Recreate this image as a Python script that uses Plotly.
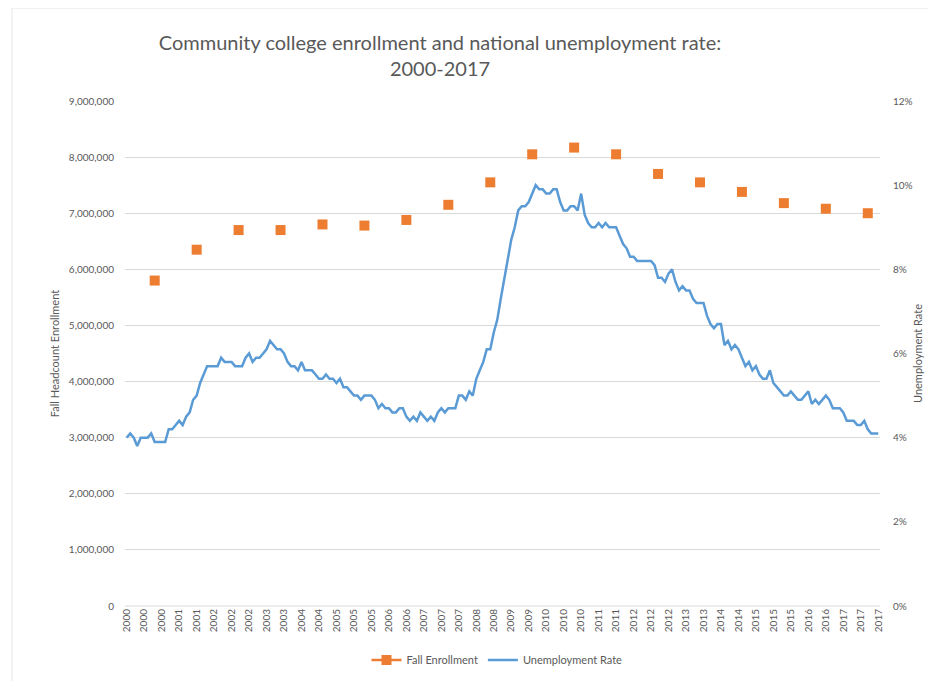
import plotly.graph_objects as go

years = list(range(2000, 2018))
fall_enrollment = [5800000, 6350000, 6700000, 6700000, 6800000, 6780000, 6880000,
                   7150000, 7550000, 8050000, 8170000, 8050000, 7700000, 7550000,
                   7380000, 7180000, 7080000, 7000000]

unemployment_rate = [
    4.0, 4.1, 4.0, 3.8, 4.0, 4.0, 4.0, 4.1, 3.9, 3.9, 3.9, 3.9,   # 2000
    4.2, 4.2, 4.3, 4.4, 4.3, 4.5, 4.6, 4.9, 5.0, 5.3, 5.5, 5.7,   # 2001
    5.7, 5.7, 5.7, 5.9, 5.8, 5.8, 5.8, 5.7, 5.7, 5.7, 5.9, 6.0,   # 2002
    5.8, 5.9, 5.9, 6.0, 6.1, 6.3, 6.2, 6.1, 6.1, 6.0, 5.8, 5.7,   # 2003
    5.7, 5.6, 5.8, 5.6, 5.6, 5.6, 5.5, 5.4, 5.4, 5.5, 5.4, 5.4,   # 2004
    5.3, 5.4, 5.2, 5.2, 5.1, 5.0, 5.0, 4.9, 5.0, 5.0, 5.0, 4.9,   # 2005
    4.7, 4.8, 4.7, 4.7, 4.6, 4.6, 4.7, 4.7, 4.5, 4.4, 4.5, 4.4,   # 2006
    4.6, 4.5, 4.4, 4.5, 4.4, 4.6, 4.7, 4.6, 4.7, 4.7, 4.7, 5.0,   # 2007
    5.0, 4.9, 5.1, 5.0, 5.4, 5.6, 5.8, 6.1, 6.1, 6.5, 6.8, 7.3,   # 2008
    7.8, 8.3, 8.7, 9.0, 9.4, 9.5, 9.5, 9.6, 9.8, 10.0, 9.9, 9.9,  # 2009
    9.8, 9.8, 9.9, 9.9, 9.6, 9.4, 9.4, 9.5, 9.5, 9.4, 9.8, 9.3,   # 2010
    9.1, 9.0, 9.0, 9.1, 9.0, 9.1, 9.0, 9.0, 9.0, 8.8, 8.6, 8.5,   # 2011
    8.3, 8.3, 8.2, 8.2, 8.2, 8.2, 8.2, 8.1, 7.8, 7.8, 7.7, 7.9,   # 2012
    8.0, 7.7, 7.5, 7.6, 7.5, 7.5, 7.3, 7.2, 7.2, 7.2, 6.9, 6.7,   # 2013
    6.6, 6.7, 6.7, 6.2, 6.3, 6.1, 6.2, 6.1, 5.9, 5.7, 5.8, 5.6,   # 2014
    5.7, 5.5, 5.4, 5.4, 5.6, 5.3, 5.2, 5.1, 5.0, 5.0, 5.1, 5.0,   # 2015
    4.9, 4.9, 5.0, 5.1, 4.8, 4.9, 4.8, 4.9, 5.0, 4.9, 4.7, 4.7,   # 2016
    4.7, 4.6, 4.4, 4.4, 4.4, 4.3, 4.3, 4.4, 4.2, 4.1, 4.1, 4.1,   # 2017
]

rate_ticks = [0, 2, 4, 6, 8, 10, 12]
rate_tick_labels = ["0%", "2%", "4%", "6%", "8%", "10%", "12%"]

FALL_MONTH = 8  # September of each year
n_months = len(unemployment_rate)
month_index = list(range(n_months))
month_year = [str(years[0] + i // 12) for i in month_index]

enroll_full = [None] * n_months
for k, v in enumerate(fall_enrollment):
    enroll_full[k * 12 + FALL_MONTH] = v

tick_idx = list(range(0, n_months, 5))
tick_text = [month_year[i] for i in tick_idx]

ORANGE = "#ED7D31"
BLUE = "#5B9BD5"
GRAY = "#595959"
FONT = "Lato"

fig = go.Figure()
fig.add_trace(go.Scatter(
    x=month_index, y=enroll_full, name="Fall Enrollment",
    mode="lines+markers", connectgaps=False,
    line=dict(color=ORANGE, width=2.5),
    marker=dict(symbol="square", size=10, color=ORANGE),
    yaxis="y",
))
fig.add_trace(go.Scatter(
    x=month_index, y=unemployment_rate, name="Unemployment Rate",
    mode="lines", line=dict(color=BLUE, width=2.5),
    yaxis="y2",
))

OFF = 8  # page body margin
W, H = 936, 681
L, R, T, B = 125 - OFF, 880 - OFF, 101 - OFF, 606 - OFF

def px_x(p):
    return (p - OFF - L) / (R - L)

def px_y(p):
    return (B - (p - OFF)) / (B - T)

fig.update_layout(
    width=W, height=H,
    margin=dict(l=L, r=W - R, t=T, b=H - B, autoexpand=False),
    paper_bgcolor="white", plot_bgcolor="white",
    font=dict(family=FONT, color=GRAY, size=10),
    title=dict(
        text="Community college enrollment and national unemployment rate:<br>2000-2017",
        x=(440 - OFF) / W, xanchor="center", y=1 - 42 / H, yanchor="middle",
        font=dict(family=FONT, size=20, color=GRAY),
    ),
    xaxis=dict(
        range=[-0.5, n_months - 0.5], automargin=False,
        tickmode="array", tickvals=tick_idx, ticktext=tick_text,
        tickangle=-90, showgrid=False, zeroline=False,
        showline=False, ticks="", tickfont=dict(size=10, color=GRAY),
    ),
    yaxis=dict(
        range=[0, 9000000], tickvals=list(range(0, 9000001, 1000000)),
        tickformat=",d", showgrid=True, gridcolor="#D9D9D9", gridwidth=1,
        zeroline=False, showline=False, ticks="", ticklabelstandoff=10,
        automargin=False,
        tickfont=dict(size=10, color=GRAY),
        title=dict(text="Fall Headcount Enrollment", font=dict(size=11, color=GRAY), standoff=6),
    ),
    yaxis2=dict(
        range=[0, 12], tickmode="array", tickvals=rate_ticks, ticktext=rate_tick_labels,
        overlaying="y", side="right", showgrid=False, zeroline=False,
        showline=False, ticks="", ticklabelstandoff=12, automargin=False,
        tickfont=dict(size=10, color=GRAY),
        title=dict(text="Unemployment Rate", font=dict(size=11, color=GRAY), standoff=2),
    ),
    legend=dict(
        orientation="h", x=px_x(497), xanchor="center", y=px_y(660), yanchor="middle",
        font=dict(size=11, color=GRAY), itemwidth=30,
    ),
    showlegend=True,
    shapes=[
        dict(type="line", xref="paper", yref="paper",
             x0=px_x(12), x1=px_x(940), y0=px_y(8), y1=px_y(8),
             line=dict(color="#E6E6E6", width=1)),
        dict(type="line", xref="paper", yref="paper",
             x0=px_x(12), x1=px_x(12), y0=px_y(8), y1=px_y(690),
             line=dict(color="#E6E6E6", width=1)),
        dict(type="line", xref="paper", yref="paper",
             x0=0, x1=1, y0=0, y1=0, line=dict(color="#D9D9D9", width=1)),
    ],
)

fig.write_html("out.html")
